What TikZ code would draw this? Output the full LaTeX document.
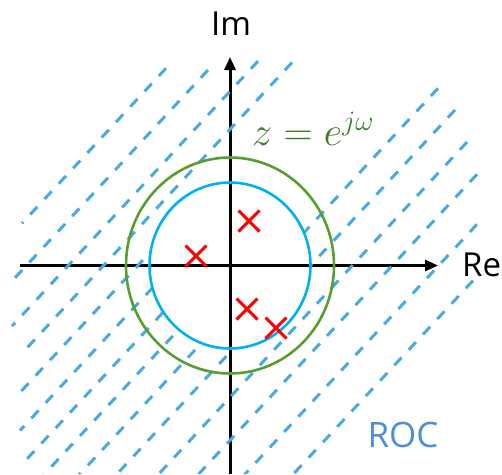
\documentclass[tikz,border=0pt]{standalone}
\usepackage{fontspec}
\setmainfont{Open Sans}
\usepackage{xcolor}
\usetikzlibrary{arrows.meta,shapes.misc}
\definecolor{hatchblue}{RGB}{72,170,224}
\definecolor{unitblue}{RGB}{0,176,240}
\definecolor{circgreen}{RGB}{86,158,48}
\definecolor{textgreen}{RGB}{58,125,36}
\definecolor{rocblue}{RGB}{74,144,217}

\begin{document}
\begin{tikzpicture}[
    x=1pt, y=-1pt,
    axis/.style={line width=3pt, -{Triangle[length=13pt,width=11pt]}},
    hatch/.style={hatchblue, line width=3pt, dash pattern=on 10.5pt off 10.5pt},
    pole/.style={cross out, draw=red, line width=3pt, minimum size=18pt, inner sep=0pt},
    axislabel/.style={inner sep=0pt, font=\fontsize{33}{38}\selectfont}
]
\useasboundingbox (0,0) rectangle (502,474);

\coordinate (O) at (230,265.5);
\coordinate (xl) at (20,265.5);
\coordinate (xr) at (438,265.5);
\coordinate (yb) at (230,474);
\coordinate (yt) at (230,57);

\draw[axis] (xl) -- (xr);
\draw[axis] (yb) -- (yt);

\begin{scope}[even odd rule]
  \clip (0,0) rectangle (502,474) (O) ellipse [x radius=80.5, y radius=83];
  \foreach \b/\xt/\xb in {247/166/22, 294/208/10, 339/258/12, 377/292/27,
                          414/200/18, 452/210/20, 488/220/27, 522/230/43,
                          560/438/78, 600/455/114, 645/467/156, 688/477/196,
                          738/477/242, 790/473/290}
    \draw[hatch] (\xt,{\b-1.077*\xt}) -- (\xb,{\b-1.077*\xb});
\end{scope}

\draw[unitblue, line width=2.6pt] (O) ellipse [x radius=80.5, y radius=83];
\draw[circgreen, line width=2.6pt] (O) ellipse [x radius=104, y radius=108];

\node[pole] (p1) at (249,221) {};
\node[pole] (p2) at (196,256) {};
\node[pole] (p3) at (247,309) {};
\node[pole] (p4) at (276,328) {};

\node[axislabel] (im) at (231,24) {Im};
\node[axislabel, anchor=west] (re) at (462,265) {Re};
\node[inner sep=0pt, anchor=base west, text=textgreen, font=\fontsize{20}{24}\selectfont] (uc) at (252,145) {\scalebox{1.95}{$z=e^{j\omega}$}};
\node[inner sep=0pt, text=rocblue, font=\fontsize{35}{40}\selectfont] (roc) at (403,434.5) {ROC};

\end{tikzpicture}
\end{document}
